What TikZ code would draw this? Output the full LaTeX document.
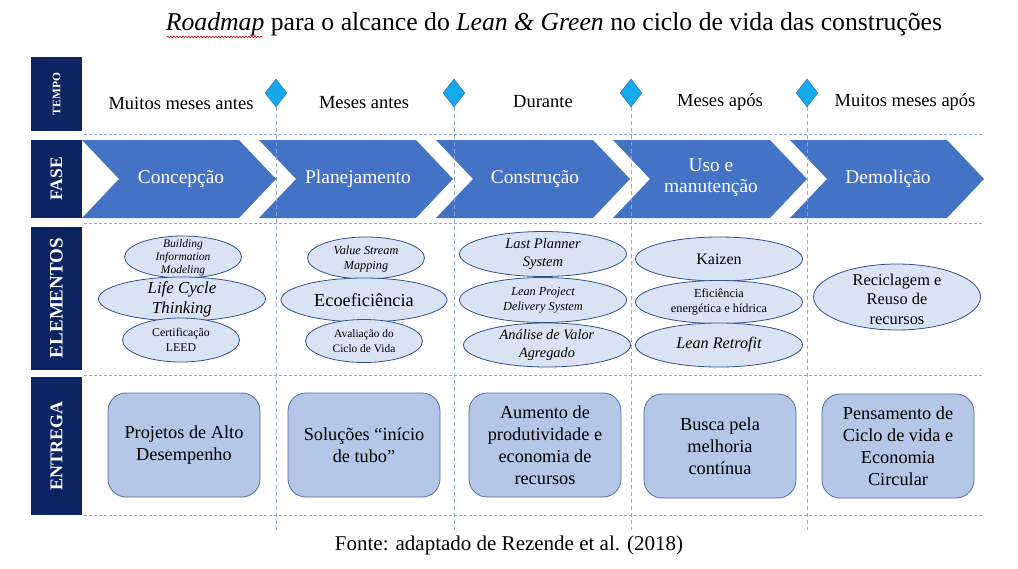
\documentclass[tikz,border=0pt]{standalone}
\usepackage{fontspec}
\setmainfont{Liberation Serif}
\usetikzlibrary{shapes.geometric,decorations.pathmorphing}
\definecolor{navy}{HTML}{0C2461}
\definecolor{chev}{HTML}{4472C4}
\definecolor{ellfill}{HTML}{DAE3F3}
\definecolor{elledge}{HTML}{2F528F}
\definecolor{boxfill}{HTML}{B4C7E7}
\definecolor{boxedge}{HTML}{4E6DA6}
\definecolor{dash}{HTML}{8EA9DB}
\definecolor{dia}{HTML}{16A9EA}
\definecolor{diaedge}{HTML}{2E75B6}
\newcommand{\fs}[2]{\fontsize{#1}{#2}\selectfont}
\tikzset{
  rowlbl/.style={fill=navy,text=white,font=\bfseries,rotate=90,minimum height=51pt,inner sep=0pt},
  ell/.style={ellipse,draw=elledge,fill=ellfill,line width=0.8pt,inner sep=0pt},
  etxt/.style={align=center,text=black},
  deliv/.style={rounded corners=18pt,draw=boxedge,fill=boxfill,line width=0.8pt,minimum width=152pt,minimum height=104pt,align=center,font=\fs{18.3}{22}},
  hline/.style={draw=dash,line width=1pt,dash pattern=on 3pt off 2pt},
  vline/.style={draw=dash,line width=0.9pt,dash pattern=on 4pt off 3pt},
  marker/.style={diamond,fill=dia,draw=diaedge,line width=0.5pt,minimum width=22pt,minimum height=28pt,inner sep=0pt},
  tlabel/.style={font=\fs{18.5}{20}},
  ctext/.style={text=white,align=center,font=\fs{19.4}{21}},
}
\begin{document}
\begin{tikzpicture}[x=1pt,y=-1pt]
\useasboundingbox[fill=white] (0,0) rectangle (1018,568);

% title
\node[font=\fs{25.7}{28}] (title) at (554,24) {\textit{Roadmap} para o alcance do \textit{Lean \& Green} no ciclo de vida das construções};
\draw[red!85!black,line width=0.6pt,decorate,decoration={snake,amplitude=0.8pt,segment length=3pt}] (167,37) -- (263,37);

% row labels
\node[rowlbl,minimum width=74pt,font=\bfseries\fs{11.5}{12}] (ltempo) at (56.5,94) {TEMPO};
\node[rowlbl,minimum width=78pt,font=\bfseries\fs{17.5}{20}] (lfase) at (56.5,179) {FASE};
\node[rowlbl,minimum width=143pt,font=\bfseries\fs{19}{20}] (lelem) at (56.5,298) {ELEMENTOS};
\node[rowlbl,minimum width=138pt,font=\bfseries\fs{18}{20}] (lentr) at (56.5,446) {ENTREGA};

% horizontal dashed lines
\coordinate (h1a) at (84,134); \coordinate (h1b) at (984,134);
\coordinate (h2a) at (84,223); \coordinate (h2b) at (984,223);
\coordinate (h3a) at (84,375); \coordinate (h3b) at (984,375);
\coordinate (h4a) at (84,515); \coordinate (h4b) at (984,515);
\draw[hline] (h1a) -- (h1b);
\draw[hline] (h2a) -- (h2b);
\draw[hline] (h3a) -- (h3b);
\draw[hline] (h4a) -- (h4b);

% chevrons
\foreach \L/\nm in {82/c1,259/c2,436/c3,613/c4,790/c5}{
  \fill[chev] (\L,140) -- ({\L+157},140) -- ({\L+194},179) -- ({\L+157},218) -- (\L,218) -- ({\L+37},179) -- cycle;
}
\node[ctext] (f1) at (181,179) {Concepção};
\node[ctext] (f2) at (358,179) {Planejamento};
\node[ctext] (f3) at (535,179) {Construção};
\node[ctext] (f4) at (711,178) {Uso e\\manutenção};
\node[ctext] (f5) at (888,179) {Demolição};

% markers and vertical lines
\foreach \x/\n in {276/1,454/2,631/3,807/4}{
  \coordinate (v\n) at (\x,530);
  \draw[vline] (\x,107) -- (v\n);
  \node[marker] (d\n) at (\x,93) {};
}

% time labels
\node[tlabel] (t1) at (181,103) {Muitos meses antes};
\node[tlabel] (t2) at (364,103) {Meses antes};
\node[tlabel] (t3) at (543,102) {Durante};
\node[tlabel] (t4) at (720,102) {Meses após};
\node[tlabel] (t5) at (905,102) {Muitos meses após};

% elements column 1
\node[ell,minimum width=117pt,minimum height=42pt] (e11) at (183,257) {};
\node[etxt,font=\itshape\fs{11.5}{13}] at (183,258) {Building\\Information\\Modeling};
\node[ell,minimum width=167pt,minimum height=44pt] (e12) at (182,299) {};
\node[etxt,font=\itshape\fs{16.8}{20}] at (182,299) {Life Cycle\\Thinking};
\node[ell,minimum width=117pt,minimum height=44pt] (e13) at (181,340) {};
\node[etxt,font=\fs{11.8}{15}] at (181,340) {Certificação\\LEED};

% column 2
\node[ell,minimum width=117pt,minimum height=42pt] (e21) at (366,258) {};
\node[etxt,font=\itshape\fs{12.3}{15}] at (366,259) {Value Stream\\Mapping};
\node[ell,minimum width=166pt,minimum height=44pt] (e22) at (364,300) {};
\node[etxt,font=\fs{18.3}{22}] at (364,300) {Ecoeficiência};
\node[ell,minimum width=117pt,minimum height=43pt] (e23) at (364,341) {};
\node[etxt,font=\fs{11.4}{15}] at (364,341) {Avaliação do\\Ciclo de Vida};

% column 3
\node[ell,minimum width=167pt,minimum height=45pt] (e31) at (543,254) {};
\node[etxt,font=\itshape\fs{14.5}{18}] at (543,254) {Last Planner\\System};
\node[ell,minimum width=167pt,minimum height=45pt] (e32) at (543,300) {};
\node[etxt,font=\itshape\fs{12.3}{15}] at (543,300) {Lean Project\\Delivery System};
\node[ell,minimum width=167pt,minimum height=44pt] (e33) at (547,345) {};
\node[etxt,font=\itshape\fs{14.3}{18}] at (547,345) {Análise de Valor\\Agregado};

% column 4
\node[ell,minimum width=167pt,minimum height=44pt] (e41) at (719,259) {};
\node[etxt,font=\fs{16}{18}] at (719,259) {Kaizen};
\node[ell,minimum width=167pt,minimum height=43pt] (e42) at (719,302) {};
\node[etxt,font=\fs{12.3}{15}] at (719,302) {Eficiência\\energética e hídrica};
\node[ell,minimum width=167pt,minimum height=44pt] (e43) at (719,345) {};
\node[etxt,font=\itshape\fs{16.2}{18}] at (719,345) {Lean Retrofit};

% column 5
\node[ell,minimum width=167pt,minimum height=66pt] (e51) at (897,297) {};
\node[etxt,font=\fs{16.4}{19.5}] at (897,299) {Reciclagem e\\Reuso de\\recursos};

% deliverables
\node[deliv] (b1) at (184,445) {Projetos de Alto\\Desempenho};
\node[deliv] (b2) at (364,445) {Soluções “início\\de tubo”};
\node[deliv] (b3) at (545,445) {Aumento de\\produtividade e\\economia de\\recursos};
\node[deliv] (b4) at (720,446) {Busca pela\\melhoria\\contínua};
\node[deliv] (b5) at (898,446) {Pensamento de\\Ciclo de vida e\\Economia\\Circular};

% footer
\node[font=\fs{21}{24}] (src) at (509,545) {Fonte: adaptado de Rezende et al. (2018)};
\end{tikzpicture}
\end{document}
